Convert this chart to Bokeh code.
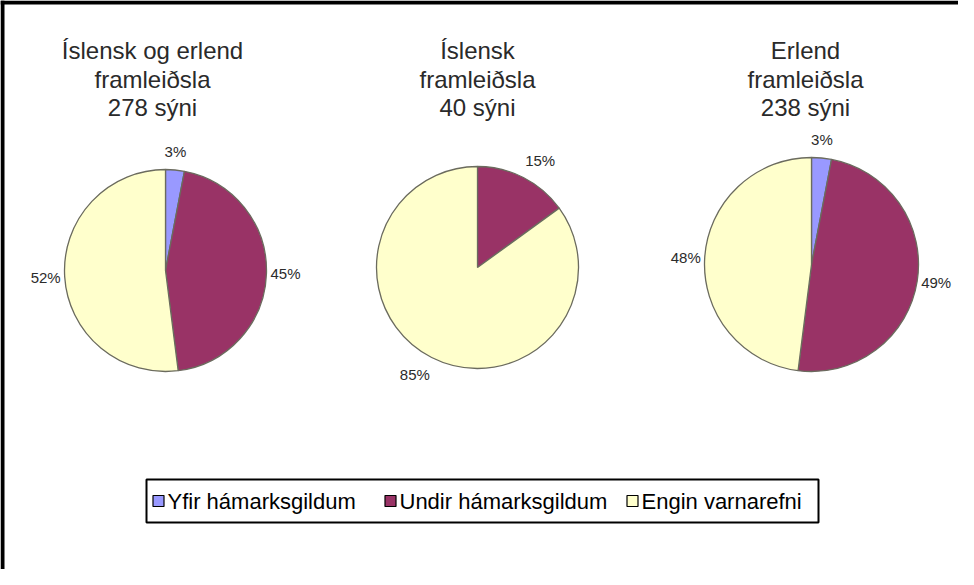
import math
from bokeh.plotting import figure
from bokeh.models import Range1d, Span, ColumnDataSource
from bokeh.core.properties import value
from bokeh.embed import file_html
from bokeh.resources import INLINE

# ---------------- data ----------------
categories = ["Yfir hámarksgildum", "Undir hámarksgildum", "Engin varnarefni"]
colors = ["#9999FF", "#993366", "#FFFFCC"]

titles_all = ["Íslensk og erlend", "framleiðsla", "278 sýni"]
titles_is = ["Íslensk", "framleiðsla", "40 sýni"]
titles_er = ["Erlend", "framleiðsla", "238 sýni"]

share_all = [3, 45, 52]   # % of 278 samples
share_is = [0, 15, 85]    # % of 40 samples
share_er = [3, 49, 48]    # % of 238 samples

# ---------------- layout (image pixel coordinates) ----------------
IMG_H = 585
FX, FY, W, H = 8, 8, 958, 569

def Y(py):
    return IMG_H - py

pies = [
    dict(values=share_all, titles=titles_all, cx=173, cy=278, r=101, tx=160),
    dict(values=share_is, titles=titles_is, cx=485, cy=275, r=101, tx=485),
    dict(values=share_er, titles=titles_er, cx=819, cy=272, r=107, tx=813),
]
title_rows = [58, 87, 115]
FONT = "Liberation Sans"

p = figure(width=W, height=H, output_backend="svg", toolbar_location=None,
           x_range=Range1d(FX, FX + W), y_range=Range1d(Y(FY + H), Y(FY)),
           min_border=0)
p.axis.visible = False
p.xgrid.visible = False
p.ygrid.visible = False
p.outline_line_color = None
p.background_fill_color = "white"
p.border_fill_color = "white"

# frame lines (top and left) as in the reference
p.add_layout(Span(location=Y(10), dimension="width", line_color="black", line_width=4))
p.add_layout(Span(location=10, dimension="height", line_color="black", line_width=4))

for pie in pies:
    vals = pie["values"]
    total = float(sum(vals))
    cum = 0.0
    xs, ys, starts, ends, cols, rads = [], [], [], [], [], []
    lx, ly, lt, la, lb = [], [], [], [], []
    for v, c in zip(vals, colors):
        c0 = cum / total
        cum += v
        c1 = cum / total
        if v <= 0:
            continue
        xs.append(pie["cx"]); ys.append(Y(pie["cy"]))
        starts.append(math.pi / 2 - 2 * math.pi * c1)
        ends.append(math.pi / 2 - 2 * math.pi * c0)
        cols.append(c); rads.append(pie["r"])
        mid = 2 * math.pi * (c0 + c1) / 2  # clockwise from top
        ux, uy = math.sin(mid), math.cos(mid)
        lx.append(pie["cx"] + ux * (pie["r"] + 4))
        ly.append(Y(pie["cy"]) + uy * (pie["r"] + 10))
        lt.append(f"{v}%")
        la.append("left" if ux > 0.3 else ("right" if ux < -0.3 else "center"))
        lb.append("bottom" if uy > 0.3 else ("top" if uy < -0.3 else "middle"))
    src = ColumnDataSource(dict(x=xs, y=ys, s=starts, e=ends, c=cols, r=rads))
    p.wedge(x="x", y="y", radius="r", start_angle="s", end_angle="e",
            direction="anticlock", fill_color="c", line_color="#6b6b5e",
            line_width=1.3, source=src)
    lsrc = ColumnDataSource(dict(x=lx, y=ly, t=lt, a=la, b=lb))
    p.text(x="x", y="y", text="t", text_align="a", text_baseline="b",
           text_font=value(FONT), text_font_size="15px", text_color="#2b2b2b",
           source=lsrc)
    tsrc = ColumnDataSource(dict(x=[pie["tx"]] * 3, y=[Y(r) for r in title_rows], t=pie["titles"]))
    p.text(x="x", y="y", text="t", text_align="center", text_baseline="middle",
           text_font=value(FONT), text_font_size="24px", text_color="#2a2a2a",
           source=tsrc)

# ---------------- legend ----------------
LB_L, LB_R, LB_T, LB_B = 154, 826, 487, 530
p.quad(left=[LB_L], right=[LB_R], top=[Y(LB_T)], bottom=[Y(LB_B)],
       fill_color="white", line_color="black", line_width=2)
leg_y = (LB_T + LB_B) / 2
sq_x = [166, 398, 640]
lsrc = ColumnDataSource(dict(x=sq_x, y=[Y(leg_y)] * 3, c=colors,
                             tx=[x + 9 for x in sq_x], t=categories))
p.scatter(x="x", y="y", marker="square", size=11, fill_color="c",
          line_color="black", line_width=1.2, source=lsrc)
p.text(x="tx", y="y", text="t", text_align="left", text_baseline="middle",
       text_font=value(FONT), text_font_size="22px", text_color="black",
       source=lsrc)

open("out.html", "w").write(file_html(p, INLINE))
